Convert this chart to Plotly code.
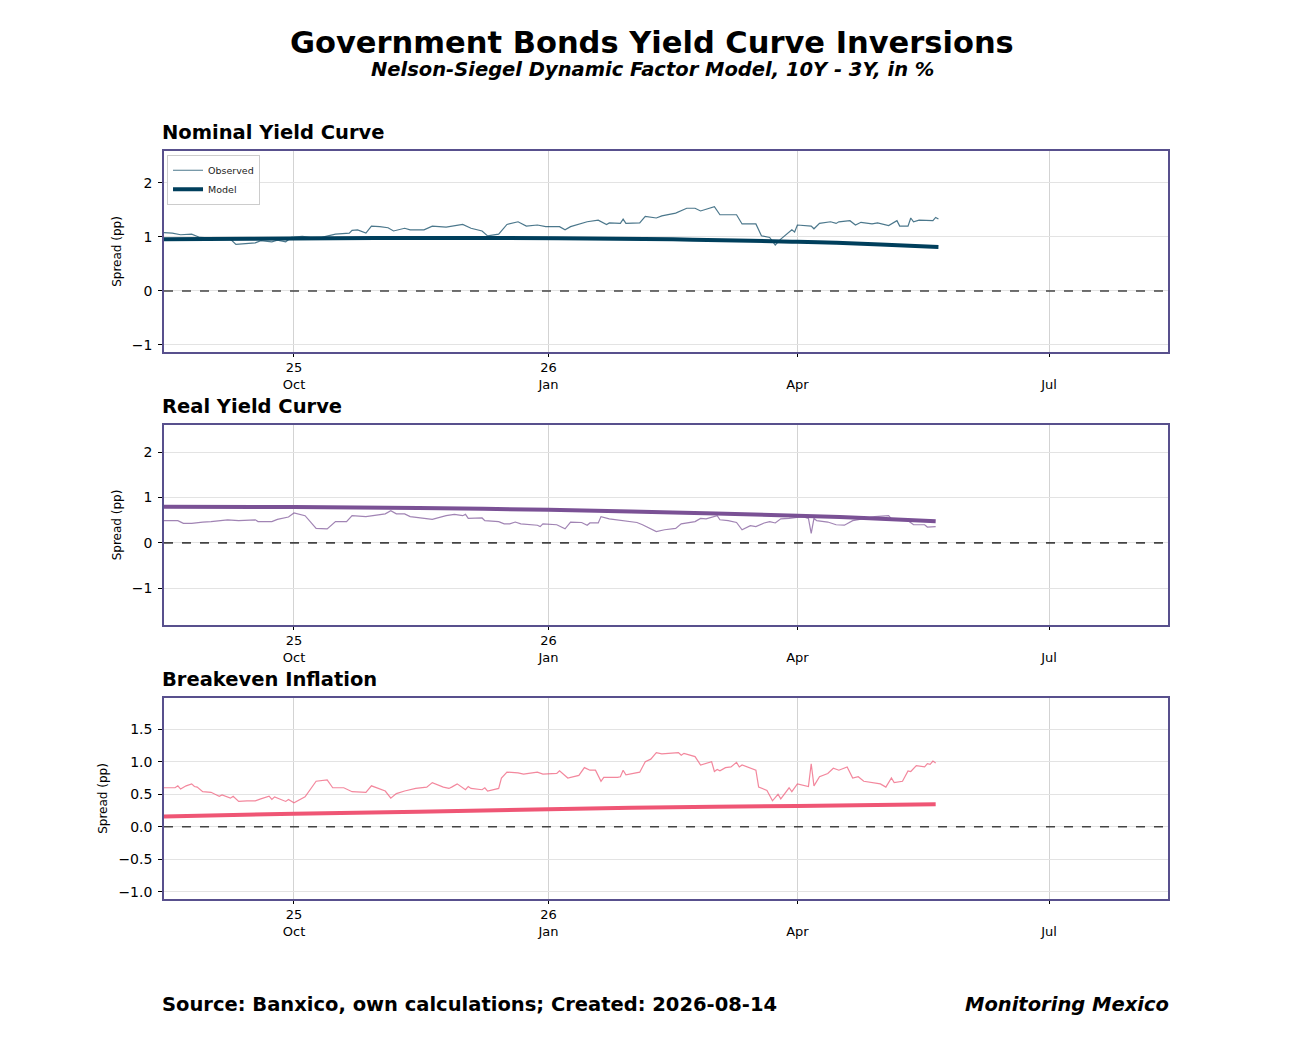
#######################################
# IMPORTS #############################
#######################################

import plotly.graph_objects as go
from plotly.subplots import make_subplots


#######################################
# Data ################################
#######################################

# Nominal curve, 10Y - 3Y spread (pp)
nominal_obs_dates = [
    "2025-08-15", "2025-08-18", "2025-08-21", "2025-08-25", "2025-08-28", "2025-09-04", "2025-09-08",
    "2025-09-10", "2025-09-14", "2025-09-17", "2025-09-19", "2025-09-23", "2025-09-25", "2025-09-28",
    "2025-09-30", "2025-10-04", "2025-10-07", "2025-10-11", "2025-10-16", "2025-10-21", "2025-10-22",
    "2025-10-24", "2025-10-27", "2025-10-29", "2025-11-01", "2025-11-04", "2025-11-06", "2025-11-10",
    "2025-11-12", "2025-11-17", "2025-11-20", "2025-11-25", "2025-12-01", "2025-12-04", "2025-12-08",
    "2025-12-10", "2025-12-14", "2025-12-17", "2025-12-21", "2025-12-24", "2025-12-28", "2025-12-31",
    "2026-01-05", "2026-01-07", "2026-01-09", "2026-01-15", "2026-01-19", "2026-01-22", "2026-01-23",
    "2026-01-27", "2026-01-28", "2026-01-29", "2026-02-03", "2026-02-05", "2026-02-09", "2026-02-11",
    "2026-02-16", "2026-02-20", "2026-02-23", "2026-02-25", "2026-03-02", "2026-03-04", "2026-03-10",
    "2026-03-12", "2026-03-17", "2026-03-19", "2026-03-22", "2026-03-24", "2026-03-26", "2026-03-30",
    "2026-03-31", "2026-04-01", "2026-04-06", "2026-04-07", "2026-04-09", "2026-04-13", "2026-04-15",
    "2026-04-16", "2026-04-20", "2026-04-22", "2026-04-24", "2026-04-28", "2026-04-30", "2026-05-04",
    "2026-05-07", "2026-05-08", "2026-05-11", "2026-05-12", "2026-05-13", "2026-05-15", "2026-05-20",
    "2026-05-21", "2026-05-22",
]
nominal_obs = [
    1.08, 1.07, 1.04, 1.05, 0.99, 0.97, 0.96,
    0.86, 0.88, 0.89, 0.93, 0.91, 0.94, 0.91,
    0.99, 1.01, 0.99, 0.99, 1.05, 1.07, 1.12,
    1.13, 1.07, 1.20, 1.19, 1.17, 1.11, 1.16,
    1.13, 1.13, 1.20, 1.18, 1.23, 1.16, 1.11,
    1.02, 1.05, 1.23, 1.28, 1.20, 1.22, 1.19,
    1.19, 1.13, 1.19, 1.28, 1.31, 1.23, 1.26,
    1.25, 1.33, 1.25, 1.26, 1.38, 1.35, 1.39,
    1.44, 1.53, 1.53, 1.48, 1.56, 1.41, 1.41,
    1.24, 1.24, 1.02, 0.99, 0.85, 0.96, 1.13,
    1.09, 1.22, 1.20, 1.15, 1.25, 1.28, 1.25,
    1.28, 1.30, 1.22, 1.27, 1.24, 1.26, 1.21,
    1.30, 1.20, 1.20, 1.35, 1.28, 1.31, 1.30,
    1.36, 1.33,
]
nominal_model_dates = [
    "2025-08-15", "2025-09-15", "2025-10-15", "2025-11-15", "2025-12-15", "2026-01-15",
    "2026-02-15", "2026-03-15", "2026-04-01", "2026-04-15", "2026-05-01", "2026-05-22",
]
nominal_model = [0.955, 0.965, 0.975, 0.98, 0.98, 0.97, 0.955, 0.93, 0.91, 0.89, 0.86, 0.815]

# Real curve
real_obs_dates = [
    "2025-08-15", "2025-08-20", "2025-08-22", "2025-08-25", "2025-08-29", "2025-09-01", "2025-09-07",
    "2025-09-11", "2025-09-17", "2025-09-18", "2025-09-23", "2025-09-25", "2025-09-29", "2025-10-01",
    "2025-10-05", "2025-10-09", "2025-10-13", "2025-10-16", "2025-10-20", "2025-10-22", "2025-10-27",
    "2025-11-03", "2025-11-05", "2025-11-07", "2025-11-10", "2025-11-12", "2025-11-20", "2025-11-25",
    "2025-11-28", "2025-12-01", "2025-12-02", "2025-12-03", "2025-12-08", "2025-12-09", "2025-12-14",
    "2025-12-16", "2025-12-18", "2025-12-20", "2025-12-22", "2025-12-28", "2025-12-29", "2025-12-30",
    "2026-01-04", "2026-01-07", "2026-01-09", "2026-01-13", "2026-01-15", "2026-01-16", "2026-01-19",
    "2026-01-20", "2026-01-23", "2026-01-28", "2026-02-02", "2026-02-04", "2026-02-07", "2026-02-09",
    "2026-02-12", "2026-02-16", "2026-02-18", "2026-02-23", "2026-02-25", "2026-02-27", "2026-03-03",
    "2026-03-04", "2026-03-07", "2026-03-10", "2026-03-12", "2026-03-15", "2026-03-17", "2026-03-20",
    "2026-03-22", "2026-03-24", "2026-03-26", "2026-03-29", "2026-04-03", "2026-04-05", "2026-04-06",
    "2026-04-07", "2026-04-08", "2026-04-12", "2026-04-15", "2026-04-18", "2026-04-21", "2026-04-29",
    "2026-05-04", "2026-05-05", "2026-05-11", "2026-05-13", "2026-05-17", "2026-05-18", "2026-05-21",
]
real_obs = [
    0.49, 0.49, 0.43, 0.43, 0.46, 0.47, 0.51,
    0.49, 0.51, 0.47, 0.47, 0.52, 0.57, 0.66,
    0.60, 0.32, 0.31, 0.47, 0.47, 0.60, 0.58,
    0.64, 0.71, 0.64, 0.64, 0.58, 0.52, 0.60,
    0.63, 0.60, 0.63, 0.54, 0.55, 0.49, 0.47,
    0.42, 0.42, 0.46, 0.42, 0.39, 0.36, 0.42,
    0.40, 0.31, 0.46, 0.45, 0.39, 0.44, 0.44,
    0.58, 0.53, 0.49, 0.45, 0.40, 0.32, 0.25,
    0.29, 0.32, 0.42, 0.47, 0.54, 0.53, 0.60,
    0.51, 0.49, 0.45, 0.29, 0.38, 0.36, 0.44,
    0.47, 0.44, 0.53, 0.54, 0.58, 0.54, 0.21,
    0.54, 0.49, 0.46, 0.40, 0.39, 0.49, 0.58,
    0.60, 0.53, 0.49, 0.40, 0.40, 0.35, 0.36,
]
real_model_dates = [
    "2025-08-15", "2025-10-01", "2025-11-15", "2026-01-01", "2026-02-15", "2026-04-01",
    "2026-04-25", "2026-05-21",
]
real_model = [0.80, 0.79, 0.77, 0.73, 0.67, 0.60, 0.55, 0.48]

# Breakeven inflation
breakeven_obs_dates = [
    "2025-08-15", "2025-08-19", "2025-08-20", "2025-08-21", "2025-08-23", "2025-08-25", "2025-08-26",
    "2025-08-27", "2025-08-29", "2025-09-01", "2025-09-03", "2025-09-04", "2025-09-05", "2025-09-08",
    "2025-09-09", "2025-09-11", "2025-09-14", "2025-09-17", "2025-09-19", "2025-09-22", "2025-09-23",
    "2025-09-24", "2025-09-28", "2025-09-29", "2025-10-01", "2025-10-05", "2025-10-09", "2025-10-13",
    "2025-10-15", "2025-10-19", "2025-10-22", "2025-10-27", "2025-10-29", "2025-11-03", "2025-11-05",
    "2025-11-07", "2025-11-10", "2025-11-12", "2025-11-14", "2025-11-18", "2025-11-20", "2025-11-24",
    "2025-11-26", "2025-11-27", "2025-11-29", "2025-12-02", "2025-12-03", "2025-12-04", "2025-12-08",
    "2025-12-09", "2025-12-10", "2025-12-14", "2025-12-15", "2025-12-17", "2025-12-21", "2025-12-23",
    "2025-12-28", "2025-12-30", "2026-01-04", "2026-01-05", "2026-01-08", "2026-01-12", "2026-01-14",
    "2026-01-16", "2026-01-18", "2026-01-20", "2026-01-21", "2026-01-26", "2026-01-27", "2026-01-28",
    "2026-01-29", "2026-02-03", "2026-02-05", "2026-02-07", "2026-02-09", "2026-02-11", "2026-02-17",
    "2026-02-18", "2026-02-19", "2026-02-23", "2026-02-25", "2026-03-01", "2026-03-02", "2026-03-03",
    "2026-03-04", "2026-03-06", "2026-03-08", "2026-03-10", "2026-03-11", "2026-03-12", "2026-03-17",
    "2026-03-18", "2026-03-21", "2026-03-23", "2026-03-25", "2026-03-26", "2026-03-29", "2026-03-30",
    "2026-04-01", "2026-04-05", "2026-04-06", "2026-04-07", "2026-04-09", "2026-04-12", "2026-04-14",
    "2026-04-16", "2026-04-19", "2026-04-21", "2026-04-23", "2026-04-25", "2026-04-28", "2026-05-01",
    "2026-05-03", "2026-05-05", "2026-05-06", "2026-05-09", "2026-05-11", "2026-05-12", "2026-05-14",
    "2026-05-17", "2026-05-18", "2026-05-19", "2026-05-20", "2026-05-21",
]
breakeven_obs = [
    0.60, 0.60, 0.63, 0.58, 0.63, 0.66, 0.62,
    0.61, 0.54, 0.53, 0.49, 0.47, 0.49, 0.44,
    0.47, 0.39, 0.40, 0.40, 0.43, 0.47, 0.42,
    0.46, 0.39, 0.42, 0.37, 0.46, 0.70, 0.72,
    0.60, 0.60, 0.54, 0.53, 0.63, 0.55, 0.44,
    0.51, 0.55, 0.57, 0.59, 0.61, 0.68, 0.61,
    0.59, 0.61, 0.66, 0.57, 0.62, 0.59, 0.57,
    0.60, 0.55, 0.59, 0.75, 0.84, 0.83, 0.81,
    0.84, 0.81, 0.82, 0.86, 0.75, 0.79, 0.91,
    0.87, 0.87, 0.70, 0.76, 0.76, 0.77, 0.87,
    0.80, 0.84, 1.00, 1.04, 1.14, 1.12, 1.14,
    1.10, 1.13, 1.08, 0.95, 1.00, 0.85, 0.88,
    0.86, 0.91, 0.92, 0.99, 0.92, 0.95, 0.87,
    0.61, 0.56, 0.40, 0.50, 0.43, 0.60, 0.54,
    0.66, 0.62, 0.97, 0.63, 0.77, 0.82, 0.90,
    0.87, 0.92, 0.75, 0.77, 0.70, 0.68, 0.66,
    0.61, 0.75, 0.68, 0.70, 0.86, 0.85, 0.94,
    0.92, 0.97, 0.96, 1.01, 0.98,
]
breakeven_model_dates = [
    "2025-08-15", "2025-10-01", "2025-11-15", "2026-01-01", "2026-02-15", "2026-04-01", "2026-05-21",
]
breakeven_model = [0.16, 0.20, 0.23, 0.27, 0.30, 0.32, 0.345]

# Axis ticks
x_tick_vals = ["2025-10-01", "2026-01-01", "2026-04-01", "2026-07-01"]
x_tick_text = ["25<br>Oct", "26<br>Jan", "<br>Apr", "<br>Jul"]
x_range = ["2025-08-15", "2026-08-13"]


#######################################
# Plotting ############################
#######################################

FONT = "DejaVu Sans"
FRAME = "#58508d"

panels = [
    dict(title="Nominal Yield Curve", color="#003f5c",
         obs_x=nominal_obs_dates, obs_y=nominal_obs,
         mod_x=nominal_model_dates, mod_y=nominal_model,
         y_range=[-1.13, 2.59], dtick=1, fmt="d", domain=[0.7313, 1.0]),
    dict(title="Real Yield Curve", color="#7a5195",
         obs_x=real_obs_dates, obs_y=real_obs,
         mod_x=real_model_dates, mod_y=real_model,
         y_range=[-1.81, 2.6], dtick=1, fmt="d", domain=[0.3663, 0.6337]),
    dict(title="Breakeven Inflation", color="#ef5675",
         obs_x=breakeven_obs_dates, obs_y=breakeven_obs,
         mod_x=breakeven_model_dates, mod_y=breakeven_model,
         y_range=[-1.11, 1.98], dtick=0.5, fmt=".1f", domain=[0.0, 0.2687]),
]

fig = make_subplots(rows=3, cols=1)

annotations = []
shapes = []

for i, p in enumerate(panels):
    row = i + 1
    first = (i == 0)

    # observed series (thin, lighter)
    fig.add_trace(go.Scatter(
        x=p["obs_x"], y=p["obs_y"], mode="lines", name="Observed",
        line=dict(color=p["color"], width=1.2), opacity=0.7,
        showlegend=first,
    ), row=row, col=1)

    # model fit (thick)
    fig.add_trace(go.Scatter(
        x=p["mod_x"], y=p["mod_y"], mode="lines", name="Model",
        line=dict(color=p["color"], width=4, shape="spline"),
        showlegend=first,
    ), row=row, col=1)

    axis_n = "" if row == 1 else str(row)

    fig.update_xaxes(
        range=x_range, type="date",
        tickvals=x_tick_vals, ticktext=x_tick_text,
        ticks="outside", ticklen=3, tickcolor="black",
        showgrid=True, gridcolor="#d3d3d3", gridwidth=1,
        showline=True, linecolor=FRAME, linewidth=1.6, mirror=True,
        tickfont=dict(size=13, color="black"),
        row=row, col=1,
    )
    fig.update_yaxes(
        range=p["y_range"], dtick=p["dtick"], tickformat=p["fmt"],
        ticks="outside", ticklen=4, tickcolor="black", ticklabelstandoff=3,
        showgrid=True, gridcolor="#e3e3e3", gridwidth=1,
        zeroline=False,
        showline=True, linecolor=FRAME, linewidth=1.6, mirror=True,
        tickfont=dict(size=14, color="black"),
        title=dict(text="Spread (pp)", font=dict(size=12, color="black"), standoff=8),
        domain=p["domain"],
        row=row, col=1,
    )

    # dashed zero line
    shapes.append(dict(
        type="line", xref=f"x{axis_n} domain", yref=f"y{axis_n}",
        x0=0, x1=1, y0=0, y1=0,
        line=dict(color="#444444", width=1.6, dash="dash"),
    ))

    # panel title
    annotations.append(dict(
        text=f"<b>{p['title']}</b>", xref="paper", yref="paper",
        x=-0.004, y=p["domain"][1] + 0.0067, xanchor="left", yanchor="bottom",
        showarrow=False, font=dict(size=19.5, color="black"),
    ))

# main title & subtitle
annotations.append(dict(
    text="<b>Government Bonds Yield Curve Inversions</b>", xref="paper", yref="paper",
    x=0.4861, y=1.1444, xanchor="center", yanchor="middle", showarrow=False,
    font=dict(size=30.5, color="black"),
))
annotations.append(dict(
    text="<b><i>Nelson-Siegel Dynamic Factor Model, 10Y - 3Y, in %</i></b>", xref="paper", yref="paper",
    x=0.4861, y=1.1096, xanchor="center", yanchor="middle", showarrow=False,
    font=dict(size=19.5, color="black"),
))

# footer
annotations.append(dict(
    text="<b>Source: Banxico, own calculations; Created: 2026-08-14</b>", xref="paper", yref="paper",
    x=-0.004, y=-0.1404, xanchor="left", yanchor="middle", showarrow=False,
    font=dict(size=19.5, color="black"),
))
annotations.append(dict(
    text="<b><i>Monitoring Mexico</i></b>", xref="paper", yref="paper",
    x=1.003, y=-0.1404, xanchor="right", yanchor="middle", showarrow=False,
    font=dict(size=19.5, color="black"),
))

# page body adds ~8px offset, so the figure is a bit smaller than the window
fig.update_layout(
    width=1284, height=1024,
    margin=dict(l=156, r=124, t=143, b=133),
    paper_bgcolor="white", plot_bgcolor="white",
    font=dict(family=FONT, color="black"),
    annotations=annotations,
    shapes=shapes,
    showlegend=True,
    legend=dict(
        x=0.003, y=0.995, xanchor="left", yanchor="top",
        bgcolor="rgba(255,255,255,0.9)", bordercolor="#cccccc", borderwidth=1,
        font=dict(size=9.5, color="#222222"), itemwidth=30, tracegroupgap=0,
    ),
)

fig.write_html("out.html")
